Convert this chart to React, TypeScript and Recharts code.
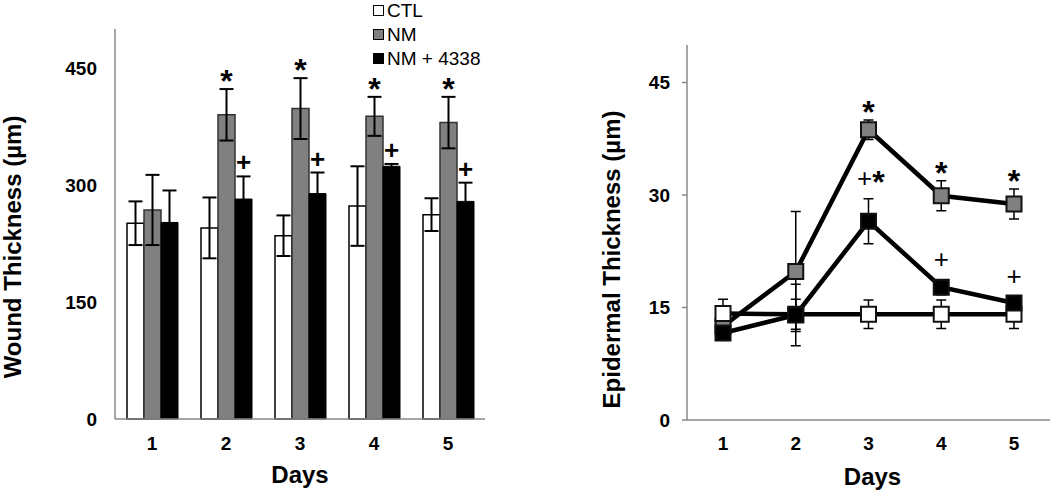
import React from 'react';
import { BarChart, Bar, XAxis, YAxis, ErrorBar, Legend, Label, LineChart, Line } from 'recharts';

// ---------- data ----------
const days = ['1', '2', '3', '4', '5'];

// Wound thickness (µm)
const woundCtl = [251, 245, 235, 273, 262];
const woundCtlErr = [28, 39, 26, 51, 21];
const woundNm = [268, 390, 398, 388, 380];
const woundNmErr = [45, 33, 39, 25, 33];
const woundCombo = [252, 282, 289, 324, 279];
const woundComboErr = [41, 29, 27, 3, 24];
const woundNmMarks = ['', '*', '*', '*', '*'];
const woundComboMarks = ['', '+', '+', '+', '+'];
const woundTicks = [0, 150, 300, 450];

// Epidermal thickness (µm)
const epiCtl = [14.2, 14.1, 14.1, 14.1, 14.1];
const epiCtlErr = [1.9, 2, 1.9, 1.9, 1.9];
const epiNm = [12.5, 19.8, 38.7, 29.9, 28.8];
const epiNmErr = [0.8, 8, 1.3, 2, 2];
const epiCombo = [11.6, 14.0, 26.5, 17.7, 15.6];
const epiComboErr = [0.8, 4.1, 3, 1, 0.8];
const epiNmMarks = ['', '', '*', '*', '*'];
const epiComboMarks = ['', '', '+*', '+', '+'];
const epiTicks = [0, 15, 30, 45];

const seriesNames = ['CTL', 'NM', 'NM + 4338'];

const woundData = days.map((d, i) => ({
  day: d,
  ctl: woundCtl[i], ctlErr: woundCtlErr[i],
  nm: woundNm[i], nmErr: woundNmErr[i],
  combo: woundCombo[i], comboErr: woundComboErr[i],
}));

const epiData = days.map((d, i) => ({
  day: d,
  ctl: epiCtl[i], ctlErr: epiCtlErr[i],
  nm: epiNm[i], nmErr: epiNmErr[i],
  combo: epiCombo[i], comboErr: epiComboErr[i],
}));

// ---------- layout ----------
const FONT = 'Arial, "Liberation Sans", sans-serif';
const GRAY = '#808080';
const AXIS = '#888888';

const L_W = 500, L_H = 491;
const L_M = { top: 29, right: 15, bottom: 42, left: 0 };
const L_MAX = 500;
const L_PX = (L_H - L_M.top - L_M.bottom - 30) / L_MAX;

const R_W = 520, R_H = 491;
const R_M = { top: 45, right: 0, bottom: 41, left: 0 };
const R_MAX = 50;
const R_PX = (R_H - R_M.top - R_M.bottom - 30) / R_MAX;

const tickStyle = { fill: '#000', fontSize: 19, fontWeight: 'bold', fontFamily: FONT };

function box(p: any) {
  const vb = p.viewBox || {};
  return {
    x: vb.x ?? p.x ?? 0,
    y: vb.y ?? p.y ?? 0,
    width: vb.width ?? p.width ?? 0,
    height: vb.height ?? p.height ?? 0,
  };
}

function markText(
  key: string, marks: string[], errs: number[], pxPerUnit: number, gap: number, bold: boolean,
) {
  return (p: any) => {
    const i = p.index;
    const m = marks[i];
    if (!m) return null;
    const b = box(p);
    const cx = b.x + b.width / 2;
    const errTop = b.y - errs[i] * pxPerUnit;
    const cy = errTop - gap;
    const chars = m.split('');
    const offs = chars.length === 2 ? [-4, 10] : [0];
    return (
      <g key={`${key}-${i}`}>
        {chars.map((c, j) => (
          <text
            key={j}
            x={cx + offs[j]}
            y={c === '*' ? cy + 15 : cy + 9}
            textAnchor="middle"
            fontFamily={FONT}
            fontWeight={c === '*' || bold ? 'bold' : 'normal'}
            fontSize={c === '*' ? 32 : 26}
            fill="#000"
          >
            {c}
          </text>
        ))}
      </g>
    );
  };
}

function yTitle(text: string, dx: number, dyFromCenter: number) {
  return (p: any) => {
    const b = box(p);
    const x = b.x + dx;
    const y = b.y + b.height / 2 + dyFromCenter;
    return (
      <text
        x={x}
        y={y}
        transform={`rotate(-90, ${x}, ${y})`}
        textAnchor="middle"
        fontFamily={FONT}
        fontWeight="bold"
        fontSize={24}
        fill="#000"
      >
        {text}
      </text>
    );
  };
}

function xTitle(text: string, dx: number, dy: number) {
  return (p: any) => {
    const b = box(p);
    return (
      <text
        x={b.x + b.width / 2 + dx}
        y={b.y + dy}
        textAnchor="middle"
        fontFamily={FONT}
        fontWeight="bold"
        fontSize={24}
        fill="#000"
      >
        {text}
      </text>
    );
  };
}

function renderLegend(props: any) {
  const payload = props.payload || [];
  return (
    <div style={{ fontFamily: FONT, fontSize: 19, color: '#000' }}>
      {payload.map((e: any, i: number) => {
        const fill = (e.payload && e.payload.fill) || e.color;
        return (
          <div
            key={i}
            style={{ display: 'flex', alignItems: 'center', height: 21, lineHeight: '21px', marginBottom: 3 }}
          >
            <span
              style={{
                display: 'inline-block',
                width: 9,
                height: 9,
                background: fill,
                border: '1.5px solid #000',
                marginRight: 3,
              }}
            />
            <span>{e.value}</span>
          </div>
        );
      })}
    </div>
  );
}

function squareDot(fill: string, key: string) {
  return (p: any) => {
    const s = 15;
    return (
      <rect
        key={`${key}-${p.index}`}
        x={p.cx - s / 2}
        y={p.cy - s / 2}
        width={s}
        height={s}
        fill={fill}
        stroke="#111"
        strokeWidth={2}
      />
    );
  };
}

function WoundChart() {
  return (
    <BarChart
      width={L_W}
      height={L_H}
      data={woundData}
      margin={L_M}
      barCategoryGap={12}
      barGap={0}
    >
      <XAxis
        dataKey="day"
        height={30}
        tickLine={false}
        tickSize={0}
        tickMargin={18}
        axisLine={{ stroke: AXIS, strokeWidth: 1.5 }}
        tick={tickStyle}
      >
        <Label content={xTitle('Days', 0, 64)} />
      </XAxis>
      <YAxis
        width={115}
        domain={[0, L_MAX]}
        ticks={woundTicks}
        interval={0}
        tickLine={false}
        tickSize={0}
        tickMargin={18}
        axisLine={{ stroke: AXIS, strokeWidth: 1.5 }}
        tick={tickStyle}
      >
        <Label content={yTitle('Wound Thickness (µm)', 21, 23)} />
      </YAxis>
      <Legend
        layout="vertical"
        align="center"
        verticalAlign="middle"
        wrapperStyle={{ left: 373, top: 0, width: 130, height: 72 }}
        content={renderLegend}
      />
      <Bar dataKey="ctl" name={seriesNames[0]} fill="#ffffff" stroke="#000" strokeWidth={1.5} isAnimationActive={false}>
        <ErrorBar dataKey="ctlErr" width={7} stroke="#000" strokeWidth={2} />
      </Bar>
      <Bar
        dataKey="nm"
        name={seriesNames[1]}
        fill={GRAY}
        stroke="#333"
        strokeWidth={1.5}
        isAnimationActive={false}
        label={markText('wnm', woundNmMarks, woundNmErr, L_PX, 12, true)}
      >
        <ErrorBar dataKey="nmErr" width={7} stroke="#000" strokeWidth={2} />
      </Bar>
      <Bar
        dataKey="combo"
        name={seriesNames[2]}
        fill="#000000"
        stroke="#000"
        strokeWidth={1}
        isAnimationActive={false}
        label={markText('wcb', woundComboMarks, woundComboErr, L_PX, 14, true)}
      >
        <ErrorBar dataKey="comboErr" width={7} stroke="#000" strokeWidth={2} />
      </Bar>
    </BarChart>
  );
}

function EpiChart() {
  return (
    <LineChart width={R_W} height={R_H} data={epiData} margin={R_M}>
      <XAxis
        dataKey="day"
        height={30}
        padding={{ left: 36, right: 36 }}
        tickLine={false}
        tickSize={0}
        tickMargin={17}
        axisLine={{ stroke: AXIS, strokeWidth: 1.5 }}
        tick={tickStyle}
      >
        <Label content={xTitle('Days', 4, 65)} />
      </XAxis>
      <YAxis
        width={157}
        domain={[0, R_MAX]}
        ticks={epiTicks}
        interval={0}
        tickSize={5}
        tickMargin={12}
        tickLine={{ stroke: AXIS, strokeWidth: 1.5 }}
        axisLine={{ stroke: AXIS, strokeWidth: 1.5 }}
        tick={tickStyle}
      >
        <Label content={yTitle('Epidermal Thickness (µm)', 90, 27)} />
      </YAxis>
      <Line
        type="linear"
        dataKey="nm"
        name={seriesNames[1]}
        stroke="#000"
        strokeWidth={4.5}
        dot={squareDot(GRAY, 'enm')}
        activeDot={false}
        isAnimationActive={false}
        label={markText('enmL', epiNmMarks, epiNmErr, R_PX, 12, false)}
      >
        <ErrorBar dataKey="nmErr" width={5} stroke="#000" strokeWidth={1.5} />
      </Line>
      <Line
        type="linear"
        dataKey="ctl"
        name={seriesNames[0]}
        stroke="#000"
        strokeWidth={4.5}
        dot={squareDot('#ffffff', 'ectl')}
        activeDot={false}
        isAnimationActive={false}
      >
        <ErrorBar dataKey="ctlErr" width={5} stroke="#000" strokeWidth={1.5} />
      </Line>
      <Line
        type="linear"
        dataKey="combo"
        name={seriesNames[2]}
        stroke="#000"
        strokeWidth={4.5}
        dot={squareDot('#000000', 'ecb')}
        activeDot={false}
        isAnimationActive={false}
        label={markText('ecbL', epiComboMarks, epiComboErr, R_PX, 21, false)}
      >
        <ErrorBar dataKey="comboErr" width={5} stroke="#000" strokeWidth={1.5} />
      </Line>
    </LineChart>
  );
}

export default function App() {
  return (
    <div style={{ position: 'absolute', left: 0, top: 0, width: 1050, height: 491, background: '#fff', fontFamily: FONT }}>
      <div style={{ position: 'absolute', left: 0, top: 0 }}>
        <WoundChart />
      </div>
      <div style={{ position: 'absolute', left: 530, top: 0 }}>
        <EpiChart />
      </div>
    </div>
  );
}
